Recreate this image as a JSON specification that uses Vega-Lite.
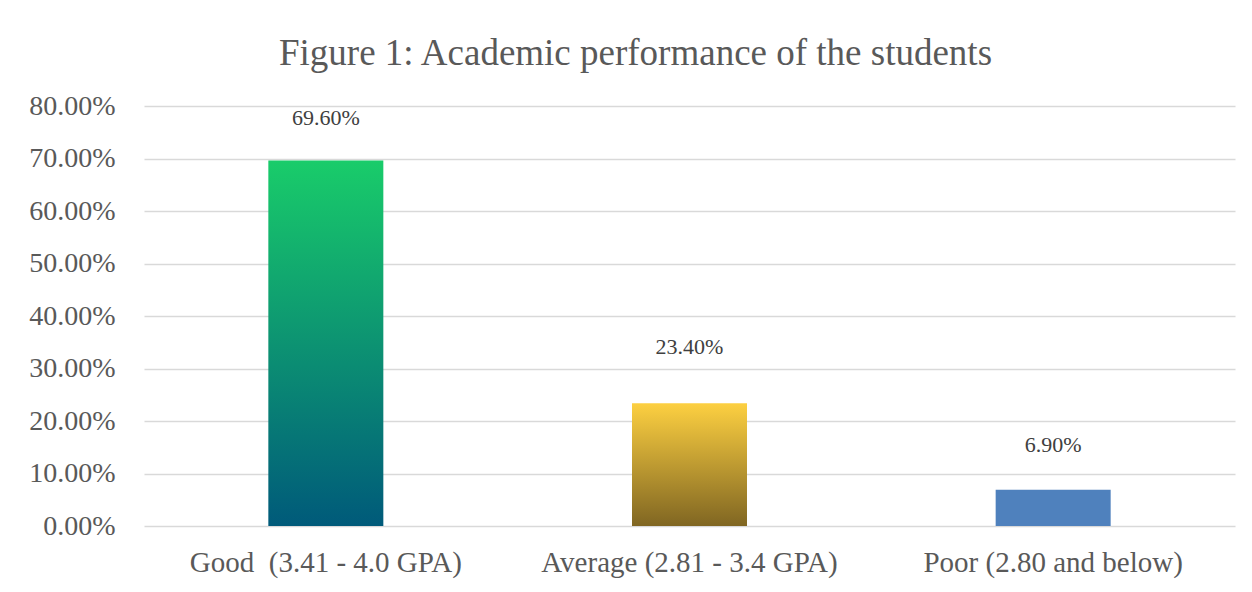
{
  "$schema": "https://vega.github.io/schema/vega-lite/v6.json",
  "width": 1091,
  "height": 420,
  "autosize": {"type": "none"},
  "padding": {"left": 144, "top": 106, "right": 17, "bottom": 66},
  "background": "white",
  "config": {
    "view": {"stroke": null},
    "font": "Liberation Serif"
  },
  "title": {
    "text": "Figure 1: Academic performance of the students",
    "font": "Liberation Serif",
    "fontSize": 37,
    "fontWeight": "normal",
    "color": "#595959",
    "anchor": "middle",
    "frame": "group",
    "dx": -54,
    "baseline": "alphabetic",
    "offset": -10
  },
  "data": {
    "values": [
      {"category": "Good\u00a0 (3.41 - 4.0 GPA)", "share": 0.696},
      {"category": "Average (2.81 - 3.4 GPA)", "share": 0.234},
      {"category": "Poor (2.80 and below)", "share": 0.069}
    ]
  },
  "encoding": {
    "x": {
      "field": "category",
      "type": "nominal",
      "sort": null,
      "scale": {"paddingInner": 0, "paddingOuter": 0},
      "axis": {
        "title": null,
        "labelAngle": 0,
        "labelLimit": 0,
        "labelFont": "Liberation Serif",
        "labelFontSize": 29,
        "labelColor": "#595959",
        "labelPadding": 22,
        "domain": false,
        "ticks": false
      }
    },
    "y": {
      "field": "share",
      "type": "quantitative",
      "scale": {"domain": [0, 0.8], "nice": false},
      "axis": {
        "title": null,
        "values": [0, 0.1, 0.2, 0.3, 0.4, 0.5, 0.6, 0.7, 0.8],
        "format": ".2%",
        "labelFont": "Liberation Serif",
        "labelFontSize": 28,
        "labelColor": "#595959",
        "labelPadding": 29,
        "domain": false,
        "ticks": false,
        "gridColor": "#D9D9D9",
        "gridWidth": 1.5
      }
    }
  },
  "layer": [
    {
      "mark": {"type": "bar", "size": 115},
      "encoding": {
        "color": {
          "condition": [
            {
              "test": "datum.share > 0.5",
              "value": {
                "gradient": "linear",
                "x1": 0, "y1": 0, "x2": 0, "y2": 1,
                "stops": [
                  {"offset": 0, "color": "#19CC6A"},
                  {"offset": 1, "color": "#005A7A"}
                ]
              }
            },
            {
              "test": "datum.share > 0.1",
              "value": {
                "gradient": "linear",
                "x1": 0, "y1": 0, "x2": 0, "y2": 1,
                "stops": [
                  {"offset": 0, "color": "#FDD041"},
                  {"offset": 1, "color": "#806622"}
                ]
              }
            }
          ],
          "value": "#4F81BD"
        }
      }
    },
    {
      "transform": [{"filter": "datum.share > 0.5"}],
      "mark": {"type": "text", "font": "Liberation Serif", "fontSize": 22, "color": "#404040", "baseline": "middle", "dy": -43},
      "encoding": {"text": {"field": "share", "type": "quantitative", "format": ".2%"}}
    },
    {
      "transform": [{"filter": "datum.share > 0.1 && datum.share <= 0.5"}],
      "mark": {"type": "text", "font": "Liberation Serif", "fontSize": 22, "color": "#404040", "baseline": "middle", "dy": -56},
      "encoding": {"text": {"field": "share", "type": "quantitative", "format": ".2%"}}
    },
    {
      "transform": [{"filter": "datum.share <= 0.1"}],
      "mark": {"type": "text", "font": "Liberation Serif", "fontSize": 22, "color": "#404040", "baseline": "middle", "dy": -45},
      "encoding": {"text": {"field": "share", "type": "quantitative", "format": ".2%"}}
    }
  ]
}
